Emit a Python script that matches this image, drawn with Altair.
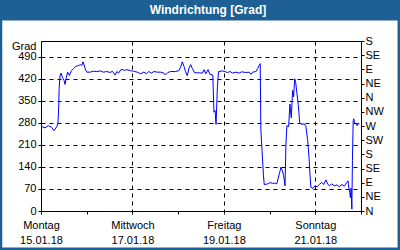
import altair as alt
import pandas as pd
import json

# time in hours since Monday 15.01.18 00:00, wind direction in degrees
hours = [0, 2.1, 3.8, 5.6, 6.8, 8.2, 8.9, 9.3, 9.5, 10.0, 10.5, 11.2, 12.1, 12.6, 13.3, 14.0, 14.9, 15.8, 17.0, 18.2,
         19.6, 20.8, 21.4, 22.1, 23.2, 24.0, 25.8, 27.5, 29.3, 31.1, 32.8, 34.5, 36.3, 37.5, 38.9, 39.8, 40.7, 42.1, 43.8, 45.1,
         46.8, 48.7, 50.5, 52.3, 54.0, 55.4, 56.6, 57.9, 59.3, 61.1, 62.8, 64.5, 65.3, 66.6, 68.1, 70.7, 72.4, 73.3, 74.2, 75.1,
         75.8, 76.8, 77.7, 78.6, 79.5, 80.7, 82.9, 84.7, 85.6, 86.5, 87.7, 88.7, 90.2, 90.8, 91.4, 91.9, 92.6, 93.2, 95.3, 97.9,
         99.3, 100.5, 102.3, 104.0, 105.3, 107.5, 109.3, 110.2, 111.1, 112.8, 113.7, 114.5, 115.1, 115.4, 116.3, 116.8, 117.2,
         118.9, 120.2, 121.6, 123.3, 123.8, 125.1, 126.0, 126.7, 127.4, 128.1, 128.6, 129.1, 130.0, 130.7, 131.4, 132.1, 132.6,
         133.2, 133.7, 134.4, 135.1, 135.8, 136.8, 138.2, 139.1, 140.0, 140.7, 141.2, 141.7, 142.8, 143.8, 144.9, 146.1,
         147.4, 148.4, 149.6, 150.5, 151.4, 152.6, 154.0, 155.4, 156.6, 157.9, 159.3, 160.5, 161.2, 161.7, 162.1, 162.4, 162.8,
         163.2, 163.5, 163.9, 164.2, 164.7, 165.3, 166.0, 166.6, 167.1]
degrees = [269, 264, 271, 266, 255, 267, 277, 330, 388, 430, 438, 425, 415, 402, 425, 441, 430, 444, 452, 459,
           462, 465, 462, 474, 452, 441, 441, 444, 443, 445, 441, 443, 440, 444, 432, 443, 438, 450, 447, 449,
           446, 444, 441, 436, 441, 436, 443, 438, 443, 441, 441, 438, 432, 440, 443, 443, 446, 457, 474, 459,
           444, 430, 454, 465, 452, 439, 439, 438, 449, 436, 449, 434, 432, 314, 319, 275, 393, 443, 445, 440,
           443, 438, 441, 438, 442, 440, 441, 434, 441, 443, 452, 462, 468, 261, 165, 112, 84,
           86, 90, 88, 88, 86, 118, 139, 128, 112, 80, 213, 271, 268, 340, 296, 383, 362,
           420, 409, 372, 335, 282, 275, 277, 268, 224, 171, 118, 75, 72, 80, 77, 84,
           91, 84, 99, 86, 80, 86, 80, 83, 77, 84, 79, 91, 96, 70, 59, 43, 73,
           6, 160, 287, 293, 280, 277, 271, 280, 275]

day_names = ["Montag", "Dienstag", "Mittwoch", "Donnerstag", "Freitag", "Samstag", "Sonntag"]
day_dates = ["15.01.18", "16.01.18", "17.01.18", "18.01.18", "19.01.18", "20.01.18", "21.01.18"]
left_ticks = [0, 70, 140, 210, 280, 350, 420, 490]
compass = ["N", "NE", "E", "SE", "S", "SW", "W", "NW", "N", "NE", "E", "SE", "S"]
title_text = "Windrichtung [Grad]"

df = pd.DataFrame({"h": hours, "deg": degrees})

HEADER = "#1e5f94"
FONT = "Liberation Sans"

x_label_expr = (
    f"datum.value % 48 === 0 && datum.value < 168 ? "
    f"[{json.dumps(day_names)}[datum.value/24], {json.dumps(day_dates)}[datum.value/24]] : ''"
)
right_label_expr = f"{json.dumps(compass)}[round(datum.value/45)]"

x_enc = alt.X(
    "h:Q",
    scale=alt.Scale(domain=[0, 168], nice=False),
    axis=alt.Axis(
        values=list(range(0, 169, 24)),
        tickSize=3,
        labelExpr=x_label_expr,
        labelOverlap=False,
        labelFlush=False,
        labelLineHeight=15,
        labelPadding=5,
        grid=True,
        gridDash=[4, 4],
        gridColor="black",
        gridOpacity={"condition": {"test": "datum.value % 48 === 0 && datum.value > 0 && datum.value < 168", "value": 1}, "value": 0},
        title=None,
    ),
)

yscale = alt.Scale(domain=[0, 540], nice=False, zero=True)

line = alt.Chart(df).mark_line(color="#0000ff", strokeWidth=1, interpolate="linear").encode(
    x=x_enc,
    y=alt.Y(
        "deg:Q",
        scale=yscale,
        axis=alt.Axis(
            values=left_ticks,
            tickSize=3,
            labelPadding=2,
            grid=True,
            gridDash=[4, 4],
            gridColor="black",
            title="Grad",
            titleAngle=0,
            titleAlign="right",
            titleBaseline="middle",
            titleX=-5,
            titleY=5,
            titleFont=FONT,
            titleFontSize=11,
            titleFontWeight="normal",
            titleColor="black",
        ),
    ),
)

line_right = alt.Chart(df).mark_line(opacity=0).encode(
    x=x_enc,
    y=alt.Y(
        "deg:Q",
        scale=yscale,
        axis=alt.Axis(
            orient="right",
            values=list(range(0, 541, 45)),
            tickSize=3,
            labelPadding=1,
            grid=False,
            title=None,
            labelExpr=right_label_expr,
        ),
    ),
)

one = alt.Data(values=[{"k": 1}])
header = alt.Chart(one).mark_rect(color=HEADER).encode(
    x=alt.value(-41), x2=alt.value(359), y=alt.value(-41), y2=alt.value(-20.5)
)
frame = alt.Chart(one).mark_rect(fillOpacity=0, stroke=HEADER, strokeWidth=2.5).encode(
    x=alt.value(-40), x2=alt.value(357.8), y=alt.value(-40), y2=alt.value(207.8)
)

chart = (
    alt.layer(header, frame, line, line_right)
    .resolve_scale(y="independent")
    .properties(
        width=320,
        height=170,
        autosize="none",
        padding={"left": 41, "top": 41, "right": 39, "bottom": 39},
        background="white",
        title=alt.TitleParams(
            title_text,
            color="white",
            font=FONT,
            fontSize=12,
            fontWeight="bold",
            anchor="middle",
            frame="group",
            baseline="alphabetic",
            offset=-14.5,
            dx=7,
            dy=11.5,
        ),
    )
    .configure_view(stroke="black", strokeWidth=1)
    .configure_axis(
        labelFont=FONT,
        labelFontSize=11,
        labelColor="black",
        domainColor="black",
        tickColor="black",
    )
)

chart.save("out.html", embed_options={"renderer": "svg", "actions": False})
